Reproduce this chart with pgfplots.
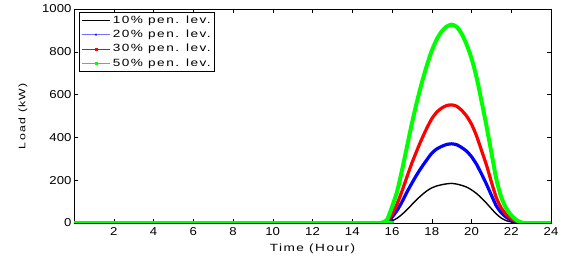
\documentclass[border=0pt]{standalone}
\usepackage{fontspec}
\setmainfont{Liberation Sans}[FakeStretch=1.15]
\newfontfamily\legfont{Liberation Sans}[FakeStretch=1.3,LetterSpace=14]
\usepackage{pgfplots}
\pgfplotsset{compat=1.18}
\pgfplotstableread{
t black blue red green
0 0 0 0 0
15.25 0 0 0 0
15.5 0 1 1 2
15.75 3 6 8 15
16 10 27 40 75
16.25 22 58 88 145
16.5 40 98 148 245
16.75 62 144 215 355
17 86 186 280 465
17.25 110 226 338 565
17.5 131 262 393 655
17.75 150 295 443 735
18 164 326 487 805
18.25 173 346 518 858
18.5 179 358 537 895
18.75 183 367 549 918
19 185 370 552 927
19.25 182 366 546 917
19.5 176 353 527 885
19.75 168 336 500 835
20 155 310 462 770
20.25 138 275 408 683
20.5 117 230 340 572
20.75 93 182 272 455
21 67 130 192 330
21.25 42 80 118 205
21.5 23 48 70 120
21.75 11 27 40 68
22 5 14 20 36
22.25 2 5 8 14
22.5 0 1 2 3
22.75 0 0 0 0
24 0 0 0 0
}\loaddata
\begin{document}
\begin{tikzpicture}
\begin{axis}[
  at={(0,0)}, anchor=south west,
  scale only axis, width=477bp, height=214bp,
  xmin=0, xmax=24, ymin=0, ymax=1000,
  xtick={2,4,...,24}, ytick={0,200,...,1000},
  tick align=inside, tick pos=both,
  major tick length=4bp,
  tick style={black, line width=0.5pt},
  axis line style={black, line width=0.8pt},
  /pgf/number format/assume math mode=true,
  /pgf/number format/1000 sep={},
  tick label style={font=\fontsize{11.5}{13}\selectfont},
  xticklabel style={yshift=-1bp},
  yticklabel style={xshift=1bp},
  xlabel={\legfont\fontsize{10.5}{12}\selectfont Time (Hour)},
  ylabel={\legfont\fontsize{9.5}{11}\selectfont Load (kW)},
  xlabel style={yshift=-1bp},
  ylabel style={yshift=8bp},
  legend style={at={(0,1)}, anchor=north west, xshift=5bp, yshift=-3bp,
    draw=black, line width=0.8pt, font=\legfont\fontsize{10.5}{12}\selectfont,
    inner sep=1.5pt, row sep=1.2pt},
  legend cell align=left,
  legend image code/.code={
    \draw[#1] (0cm,0cm) -- (1.0cm,0cm);
    \draw[#1, line width=0.5pt] plot coordinates {(0.5cm,0cm)};
  },
  every axis plot/.append style={smooth, tension=0.4},
]
\addlegendimage{black, line width=1.6pt}
\addlegendentry{10\% pen. lev.}
\addlegendimage{blue!55, line width=1.6pt, mark=x, mark size=1.2pt, mark options={blue}}
\addlegendentry{20\% pen. lev.}
\addlegendimage{red, line width=0.8pt, mark=square*, mark size=1pt}
\addlegendentry{30\% pen. lev.}
\addlegendimage{green, line width=0.8pt, mark=square*, mark size=1.1pt}
\addlegendentry{50\% pen. lev.}
\addplot[black, line width=1.4pt, forget plot] table[x=t, y=black] {\loaddata};
\addplot[blue, line width=3.2pt, forget plot] table[x=t, y=blue] {\loaddata};
\addplot[red, line width=3.2pt, forget plot] table[x=t, y=red] {\loaddata};
\addplot[green, line width=4pt, forget plot] table[x=t, y=green] {\loaddata};
\end{axis}
\pgfresetboundingbox
\path (-74bp,-34bp) rectangle (490bp,223bp);
\end{tikzpicture}
\end{document}
